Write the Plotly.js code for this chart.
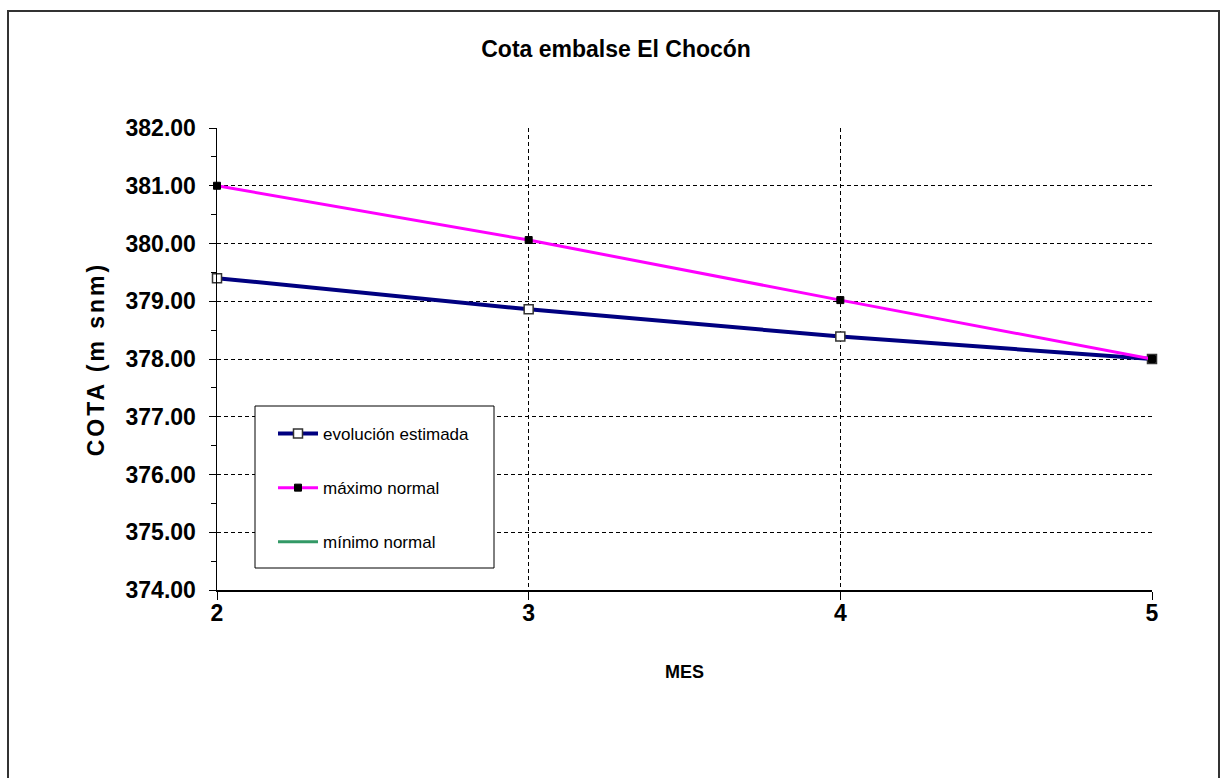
<!DOCTYPE html>
<html>
<head>
<meta charset="utf-8">
<script src="https://cdn.plot.ly/plotly-3.0.1.min.js"></script>
<style>
html,body{margin:0;padding:0;background:#fff;}
#chart{width:1220px;height:778px;}
.ytitle{letter-spacing:3px;}
</style>
</head>
<body>
<div id="chart"></div>
<script>
// Data
const meses = [2, 3, 4, 5];
const evolucionEstimada = [379.40, 378.86, 378.39, 378.00];
const maximoNormal = [381.00, 380.06, 379.02, 378.00];
const minimoNormal = [null, null, null, null]; // below visible range / not drawn
const yTickVals = [374, 375, 376, 377, 378, 379, 380, 381, 382];

const FONT = 'Liberation Sans, Arial, sans-serif';

const traces = [
  {
    x: meses, y: evolucionEstimada, name: 'evolución estimada',
    type: 'scatter', mode: 'lines+markers', legendgroup: 'a', cliponaxis: false,
    line: {color: '#000080', width: 4},
    marker: {symbol: 'square', size: 9, color: '#ffffff', line: {color: '#333333', width: 1.5}}
  },
  {
    x: meses, y: maximoNormal, name: 'máximo normal',
    type: 'scatter', mode: 'lines+markers', legendgroup: 'b', cliponaxis: false,
    line: {color: '#ff00ff', width: 3},
    marker: {symbol: 'square', size: 7, color: '#000000', line: {color: '#000000', width: 1}}
  },
  {
    x: meses, y: minimoNormal, name: 'mínimo normal',
    type: 'scatter', mode: 'lines', legendgroup: 'c', cliponaxis: false,
    line: {color: '#339966', width: 3}
  }
];

const L = 217, R = 1152, T = 128, B = 590, W = 1220, H = 778;
const pw = R - L, ph = B - T;
function px(x){ return (x - L) / pw; }
function py(y){ return (B - y) / ph; }

const layout = {
  width: W, height: H,
  margin: {l: L, r: W - R, t: T, b: H - B, pad: 0},
  paper_bgcolor: '#ffffff', plot_bgcolor: '#ffffff',
  font: {family: FONT, color: '#000000'},
  title: {
    text: '<b>Cota embalse El Chocón</b>',
    font: {family: FONT, size: 23, color: '#000000'},
    x: 0.505, xanchor: 'center', y: 1 - 49 / H, yanchor: 'middle'
  },
  showlegend: true,
  legend: {
    x: px(273), y: py(416), xanchor: 'left', yanchor: 'top',
    bgcolor: 'rgba(0,0,0,0)', borderwidth: 0,
    font: {family: FONT, size: 17, color: '#000000'},
    traceorder: 'grouped', tracegroupgap: 29, itemwidth: 40
  },
  xaxis: {
    range: [2, 5], tickvals: meses, ticktext: meses.map(String),
    showline: true, linecolor: '#000000', linewidth: 1.5,
    ticks: 'outside', ticklen: 8, tickcolor: '#000000', tickwidth: 1,
    ticklabelstandoff: -6,
    tickfont: {family: FONT, size: 23, color: '#000000', weight: 'bold'},
    showgrid: true, gridcolor: '#000000', gridwidth: 1, griddash: '4px,3px',
    zeroline: false,
    title: {text: '<b>MES</b>', font: {family: FONT, size: 18, color: '#000000'}, standoff: 40}
  },
  yaxis: {
    range: [374, 382], tickvals: yTickVals, tickformat: '.2f',
    showline: true, linecolor: '#000000', linewidth: 1.5,
    ticks: 'outside', ticklen: 7, tickcolor: '#000000', tickwidth: 1,
    ticklabelstandoff: 8,
    minor: {dtick: 0.5, tick0: 374, ticks: 'outside', ticklen: 5, tickcolor: '#000000', showgrid: false},
    tickfont: {family: FONT, size: 23, color: '#000000', weight: 'bold'},
    showgrid: true, gridcolor: '#000000', gridwidth: 1, griddash: '4px,3px',
    zeroline: false,
    title: {text: '<b>COTA (m snm)</b>', font: {family: FONT, size: 23, color: '#000000'}, standoff: 14}
  },
  shapes: [
    {type: 'rect', xref: 'paper', yref: 'paper',
     x0: px(8), x1: px(1219), y0: py(800), y1: py(11),
     line: {color: '#333333', width: 2}, fillcolor: 'rgba(0,0,0,0)', layer: 'below'},
    {type: 'rect', xref: 'paper', yref: 'paper',
     x0: px(255), x1: px(494), y0: py(568), y1: py(406),
     line: {color: '#000000', width: 1}, fillcolor: '#ffffff', layer: 'above'}
  ]
};

Plotly.newPlot('chart', traces, layout, {displayModeBar: false, staticPlot: true});
</script>
</body>
</html>
